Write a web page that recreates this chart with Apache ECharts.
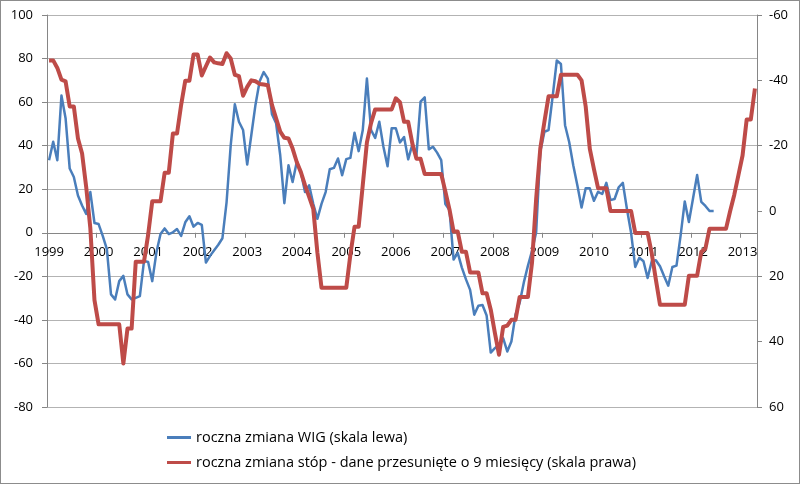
<!DOCTYPE html>
<html>
<head>
<meta charset="utf-8">
<script src="https://cdn.jsdelivr.net/npm/echarts@6/dist/echarts.min.js"></script>
<style>
    html, body { margin: 0; padding: 0; background: #fff; }
    #chart { position: absolute; left: 0; top: 0; width: 800px; height: 485px; }
    #frame { position: absolute; left: 0; top: 0; width: 800px; height: 484px; box-sizing: border-box; border: 1px solid #8c8c8c; pointer-events: none; }
</style>
</head>
<body>
<div id="chart"></div>
<div id="frame"></div>
<script>
// lata na osi X (etykiety co 12 miesiecy)
const years = ['1999', '2000', '2001', '2002', '2003', '2004', '2005', '2006',
    '2007', '2008', '2009', '2010', '2011', '2012', '2013'];
const monthsCount = 172; // 1999-01 .. 2013-04

// roczna zmiana WIG (skala lewa), 1999-01 .. 2012-06
const wig = [
    33.3, 41.8, 33.3, 63, 52.6, 29.5, 25.6, 17.1, 12.5, 8.7, 18.7, 4.5,
    4, -1.4, -7.5, -28.3, -30.6, -22.2, -19.8, -28.3, -30.6, -29.9, -29.1, -12.9,
    -13.4, -22.2, -9.1, -0.6, 2, -0.6, 0.2, 1.7, -1.4, 4.8, 7.6, 2.8,
    4.5, 3.6, -13.7, -10.6, -8, -5.5, -2.5, 14, 40, 59, 51, 47.2,
    31.3, 44.9, 58.7, 69.5, 73.8, 70.8, 54.4, 50.3, 35.6, 13.6, 31, 23.3,
    32.5, 27.9, 18.7, 21.8, 13.3, 6.4, 13.3, 18.7, 29.2, 29.8, 34.1, 26.4,
    33.8, 34.4, 45.9, 37.5, 47.2, 70.8, 47.2, 43.6, 51, 39.5, 30.5, 48,
    48, 41.5, 44, 33.7, 40.5, 35.5, 60.2, 62.2, 38.3, 39.5, 36.8, 33.4,
    13.2, 10.5, -12.3, -9.2, -16, -21.4, -26.2, -37.6, -33.5, -33.2, -38, -55,
    -53, -51.4, -48.4, -54.5, -49.9, -37.6, -32.2, -22.9, -15.2, -8.3, 0.2, 37.2,
    46.4, 47.2, 62.6, 79.1, 77.5, 49.4, 41.7, 30.9, 21.6, 11.6, 20.4, 20.4,
    14.7, 18.8, 17.8, 22.9, 15, 15.5, 20.9, 22.9, 10.8, 0, -15.7, -11.5,
    -13.1, -20.8, -13.1, -12.6, -15.4, -20, -24.3, -15.7, -15.1, -1.2, 14.4, 4.9,
    15.7, 26.5, 14.2, 12.3, 10, 10
];

// roczna zmiana stop, przesunieta o 9 miesiecy (skala prawa, odwrocona)
const stopy = [
    -46.1, -46.1, -43.8, -40.2, -39.7, -32, -32, -22.2, -17.6, -7.3, 5.3, 27.3,
    34.7, 34.7, 34.7, 34.7, 34.7, 34.7, 46.7, 36, 36, 15.5, 15.5, 15.5,
    7.3, -3, -3, -3, -11.7, -11.7, -23.7, -23.7, -32.5, -39.9, -39.9, -47.9,
    -47.9, -41.5, -44.3, -47, -45.5, -45.2, -45, -48.3, -46.7, -41.7, -41.3, -35.3,
    -38, -40, -39.7, -38.9, -38.7, -38.5, -32.5, -28.4, -24.3, -22.4, -22.2, -19.1,
    -15, -11.9, -7.9, -4.3, -0.7, 12.7, 23.5, 23.5, 23.5, 23.5, 23.5, 23.5,
    23.5, 13.3, 4.8, 4.8, -8, -21, -26.9, -31.1, -31.1, -31.1, -31.1, -31.1,
    -34.5, -33.3, -27.3, -27.3, -20.7, -16, -16, -11.3, -11.3, -11.3, -11.3, -11.3,
    -6, -0.5, 6.3, 6.3, 12.5, 12.5, 18.8, 18.8, 18.8, 25.2, 25.2, 30.2,
    37.3, 44, 35.5, 35.1, 33.3, 33.3, 26.3, 26.3, 26.3, 15.8, -3.7, -19.1,
    -27.3, -35.1, -35.1, -35.1, -41.7, -41.7, -41.7, -41.7, -41.7, -40, -32, -19,
    -12.8, -7, -7, -7, 0, 0, 0, 0, 0, 0, 6.7, 6.7,
    6.7, 6.7, 13, 21, 28.7, 28.7, 28.7, 28.7, 28.7, 28.7, 28.7, 19.8,
    19.8, 19.8, 12.5, 11.5, 5.4, 5.4, 5.4, 5.4, 5.4, 0, -5, -11,
    -17, -28, -28, -37.5
];

const seriesNames = [
    'roczna zmiana WIG (skala lewa)',
    'roczna zmiana stóp - dane przesunięte o 9 miesięcy (skala prawa)'
];

// kategorie miesieczne
const months = [];
years.forEach(y => {
    for (let m = 1; m <= 12; m++) months.push(y + '-' + (m < 10 ? '0' + m : m));
});
months.length = monthsCount;

const font = '"Open Sans", "Noto Sans", sans-serif';
const axisGray = '#868686';
const everyYear = (index) => index % 12 === 0;

// zakres lewej osi i wysokosc obszaru wykresu
const leftMin = -80, leftMax = 100;
const chartH = 485, gridTop = 15, gridBottom = 78;
const plotH = chartH - gridTop - gridBottom;
// os X przesunieta na poziom zera lewej skali
const xOffset = -(0 - leftMin) / (leftMax - leftMin) * plotH;

const chart = echarts.init(document.getElementById('chart'));

chart.setOption({
    animation: false,
    textStyle: { fontFamily: font },
    grid: { left: 47, right: 43, top: gridTop, bottom: gridBottom },
    legend: {
        orient: 'vertical',
        left: 167,
        top: 429,
        padding: 0,
        itemWidth: 24,
        itemHeight: 3,
        itemGap: 8,
        icon: 'rect',
        textStyle: { color: '#000', fontSize: 14.5, fontFamily: font, lineHeight: 17 },
        data: seriesNames
    },
    xAxis: {
        type: 'category',
        data: months,
        boundaryGap: true,
        position: 'bottom',
        offset: xOffset,
        axisLine: { onZero: false, lineStyle: { color: axisGray, width: 1 } },
        axisTick: { show: true, interval: everyYear, length: 5, lineStyle: { color: axisGray } },
        axisLabel: {
            interval: everyYear,
            formatter: (v) => v.slice(0, 4),
            margin: 13,
            color: '#000',
            fontSize: 13,
            fontFamily: font
        },
        splitLine: { show: false }
    },
    yAxis: [
        {
            type: 'value',
            min: leftMin,
            max: leftMax,
            interval: 20,
            axisLine: { show: true, onZero: false, lineStyle: { color: axisGray } },
            axisTick: { show: true, length: 5, lineStyle: { color: axisGray } },
            axisLabel: { margin: 14, color: '#000', fontSize: 13, fontFamily: font },
            splitLine: { show: true, lineStyle: { color: '#b3b3b3', width: 1 } }
        },
        {
            type: 'value',
            position: 'right',
            inverse: true,
            min: -60,
            max: 60,
            interval: 20,
            axisLine: { show: true, onZero: false, lineStyle: { color: axisGray } },
            axisTick: { show: true, length: 5, lineStyle: { color: axisGray } },
            axisLabel: { margin: 12, color: '#000', fontSize: 13, fontFamily: font },
            splitLine: { show: false }
        }
    ],
    series: [
        {
            name: seriesNames[0],
            type: 'line',
            yAxisIndex: 0,
            data: wig,
            showSymbol: false,
            symbol: 'none',
            lineStyle: { color: '#4a7ebb', width: 2.5, join: 'round' },
            itemStyle: { color: '#4a7ebb' },
            z: 2
        },
        {
            name: seriesNames[1],
            type: 'line',
            yAxisIndex: 1,
            data: stopy,
            showSymbol: false,
            symbol: 'none',
            lineStyle: { color: '#be4b48', width: 4, join: 'round' },
            itemStyle: { color: '#be4b48' },
            z: 3
        }
    ]
});
</script>
</body>
</html>
